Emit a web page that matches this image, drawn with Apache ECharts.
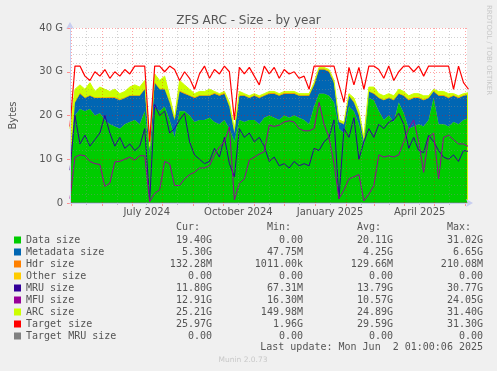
<!DOCTYPE html>
<html><head><meta charset="utf-8">
<script src="https://cdn.jsdelivr.net/npm/echarts@6/dist/echarts.min.js"></script>
<style>html,body{margin:0;padding:0;background:#F0F0F0;} #c{width:497px;height:371px;}</style>
</head><body><div id="c"></div>
<script>
// ---- data (values in G), one sample every 5 days starting 2024-04-30 ----
const startDate = [2024, 3, 30];
const stepDays = 5;
const dataSize = [8,20,21.5,21,21.5,20,20.5,19,18,17.5,
  17,18,18.5,19,18,21,11,22,21,22,
  19,15,21,21,20,18.5,19,19,19.5,18.5,
  18,19,17,14,19,18.5,19,19,18,19.5,
  20,19.5,19,20,19.5,20,19.5,19,18,22,
  25,25,24.5,23,17,16,22,21,18,13,
  24,23.5,21,19,20,18.5,23,20.5,17,17.5,
  18,17.5,19,24,18,18,17.5,18.5,18,19,
  19.4];
const metadataSize = [0.5,3,3.5,3,3,4,3.5,5,6,6.5,
  6.5,6,6,5.5,6.5,5,1,5.5,5,4,
  4,4,4.5,4,4.5,5.5,5.5,5.5,5,6.5,
  6.5,6,5,2,5.5,6,5,5.5,6,5,
  5,5.5,5.5,5,5.5,5,5,5.5,6.5,5,
  5.5,5.5,5.5,4.5,1.5,2,2.5,2,2,1,
  1.5,1.5,3,4.5,4,5,2,4,6.5,6.5,
  6,6,5,1.5,6.5,6.5,6.5,6,6,5.5,
  5.3];
const hdrSize = [0.001,0.1,0.12,0.12,0.13,0.13,0.14,0.14,0.15,0.15,
  0.15,0.14,0.14,0.14,0.15,0.13,0.05,0.15,0.14,0.13,
  0.13,0.12,0.13,0.13,0.14,0.15,0.15,0.15,0.14,0.16,
  0.16,0.15,0.14,0.08,0.14,0.15,0.14,0.15,0.16,0.14,
  0.14,0.15,0.15,0.14,0.15,0.14,0.14,0.15,0.17,0.14,
  0.2,0.21,0.2,0.16,0.06,0.07,0.09,0.08,0.08,0.05,
  0.06,0.07,0.1,0.12,0.11,0.13,0.08,0.11,0.16,0.16,
  0.15,0.15,0.13,0.06,0.16,0.16,0.16,0.15,0.15,0.14,
  0.13];
const otherSize = [0,0,0,0,0,0,0,0,0,0, 0,0,0,0,0,0,0,0,0,0, 0,0,0,0,0,0,0,0,0,0,
  0,0,0,0,0,0,0,0,0,0, 0,0,0,0,0,0,0,0,0,0, 0,0,0,0,0,0,0,0,0,0,
  0,0,0,0,0,0,0,0,0,0, 0,0,0,0,0,0,0,0,0,0, 0];
const mruSize = [7.5,20,13.5,15.5,13,14.5,16,20,16,13,
  15,12.5,13.5,12,13,17,0.5,22.5,20,21,
  16,17,19,20.5,14,11,10,9,9.5,12.5,
  10.5,15,9,6,17,15,16,14,15,13,
  9.5,10.5,8.5,9,8,9.5,8.5,9,8.5,12.5,
  12,14,15,19,1,17,15,19.5,10,14,
  17,15,18,17,18.5,19,20.5,18,12.5,15,
  12,11.5,15.5,14,12,10.5,10,11,9.5,12,
  11.8];
const mfuSize = [1,10.5,11,10.8,9.5,9,8.8,3.8,4.5,9.4,
  9.5,10,10.5,9.8,10.8,10.8,0.3,2.2,3,9.5,
  9,4,4,5.5,6.5,7,8,8,8.5,11,
  12.8,14,17.4,0.7,4.5,5.5,9.8,10.5,11.2,11.7,
  17.8,17.5,17.8,18.5,18.8,18.5,17,16.5,16.5,17,
  23,18,15,9,1,3,5.5,6,6.5,0.5,
  2,4,11,10.5,10.8,10.5,11,14,17,19,
  14,7,15,16,5.5,15,15.5,14.5,13.5,13.5,
  12.9];
const arcSize = [17,26,27,26,27.5,25.5,26.5,26,25.5,26,
  25,25.5,26.5,27,26.5,28,13,29.5,28,29,
  24.5,19.5,28,27,26,25,25.5,25.5,26,25.5,
  25,25.5,23,17,25.5,25,24.5,25,24.5,25,
  25.5,25.5,25,25.5,25.5,25.5,25,25,25,27.5,
  31,31,30.5,28,19,18.5,25,24,21,15,
  26.5,26.5,25,24.5,25,24.5,26,25.5,24.5,25,
  25,24.5,24.5,26,25.5,25.5,25,25,24.5,25,
  25.2];
const targetSize = [17.5,31.3,31.3,29,28,30,29,30.5,28.5,30,
  29,30.5,29.5,31.3,31.3,31.3,14,31.3,31.3,30,
  31.3,30.5,28,30,28.5,26,29.5,31.3,28.5,30.5,
  29.5,31.3,30,19,31,29.5,31,29,27,31.3,
  29.5,31,28.5,30.5,29.5,30,28.5,29,26,31.3,
  31.3,31.3,31.3,31.3,27,23,31,27,31,26,
  31.3,31.3,30.5,28.5,31.3,28,30,31.3,31.3,30,
  31.3,29,31.3,31.3,31.3,31.3,31.3,26,31.3,27.5,
  26];
const targetMruSize = otherSize.slice();

const seriesNames = ['Data size','Metadata size','Hdr size','Other size','MRU size','MFU size','ARC size','Target size','Target MRU size'];
const seriesColors = ['#00CC00','#0066B3','#FF8000','#FFCC00','#330099','#990099','#CCFF00','#FF0000','#808080'];
const curVals = ['19.40G','5.30G','132.28M','0.00','11.80G','12.91G','25.21G','25.97G','0.00'];
const minVals = ['0.00','47.75M','1011.00k','0.00','67.31M','16.30M','149.98M','1.96G','0.00'];
const avgVals = ['20.11G','4.25G','129.66M','0.00','13.79G','10.57G','24.89G','29.59G','0.00'];
const maxVals = ['31.02G','6.65G','210.08M','0.00','30.77G','24.05G','31.40G','31.30G','0.00'];
const yTickLabels = ['0','10 G','20 G','30 G','40 G'];
const xLabelMonths = [[2024,6],[2024,9],[2025,0],[2025,3]];
const xLabels = ['July 2024','October 2024','January 2025','April 2025'];

// ---- build ----
const DAY = 86400000;
const t0 = new Date(startDate[0], startDate[1], startDate[2]).getTime();
const pairs = arr => arr.map((v, i) => [t0 + i * stepDays * DAY, v]);
const xMin = new Date(2024, 3, 30).getTime();
const xMax = new Date(2025, 5, 2, 12).getTime();
const monthStarts = [], midMonths = [];
for (let y = 2024, m = 4; y < 2025 || (y === 2025 && m <= 5); ) {
  monthStarts.push(new Date(y, m, 1).getTime());
  midMonths.push(new Date(y, m, 16).getTime());
  m++; if (m > 11) { m = 0; y++; }
}
const labelPos = xLabelMonths.map(a => new Date(a[0], a[1], 16).getTime());

const mono = '"DejaVu Sans Mono", monospace';
const sans = '"DejaVu Sans", sans-serif';
const txt = '#555';

function area(name, idx, arr) {
  return { name, type: 'line', stack: 'arc', data: pairs(arr), symbol: 'none', silent: true,
    lineStyle: { width: 0 }, itemStyle: { color: seriesColors[idx] },
    areaStyle: { color: seriesColors[idx], opacity: 1 } };
}
function line(name, idx, arr, w) {
  return { name, type: 'line', data: pairs(arr), symbol: 'none', silent: true,
    lineStyle: { width: w, color: seriesColors[idx] }, itemStyle: { color: seriesColors[idx] } };
}

const series = [
  { name: 'ARC size', type: 'line', data: pairs(arcSize), symbol: 'none', silent: true,
    lineStyle: { width: 1, color: seriesColors[6] }, itemStyle: { color: seriesColors[6] },
    areaStyle: { color: seriesColors[6], opacity: 1 } },
  area('Data size', 0, dataSize),
  area('Metadata size', 1, metadataSize),
  area('Hdr size', 2, hdrSize),
  area('Other size', 3, otherSize),
  line('MRU size', 4, mruSize, 1),
  line('MFU size', 5, mfuSize, 1),
  line('Target size', 7, targetSize, 1.2),
  line('Target MRU size', 8, targetMruSize, 1)
];

const graphics = [];
const colRight = [212, 303, 393, 483];
const headers = ['Cur:', 'Min:', 'Avg:', 'Max:'];
const cols = [curVals, minVals, avgVals, maxVals];
headers.forEach((h, c) => {
  graphics.push({ type: 'text', x: colRight[c] - 12, y: 227, silent: true,
    style: { text: h, align: 'right', verticalAlign: 'middle', font: '10px ' + mono, fill: txt } });
  cols[c].forEach((v, r) => {
    graphics.push({ type: 'text', x: colRight[c], y: 240 + r * 12, silent: true,
      style: { text: v, align: 'right', verticalAlign: 'middle', font: '10px ' + mono, fill: txt } });
  });
});
graphics.push({ type: 'text', x: 483, y: 347, silent: true,
  style: { text: 'Last update: Mon Jun  2 01:00:06 2025', align: 'right', verticalAlign: 'middle', font: '10px ' + mono, fill: txt } });
graphics.push({ type: 'text', x: 243, y: 360, silent: true,
  style: { text: 'Munin 2.0.73', align: 'center', verticalAlign: 'middle', font: '7.5px ' + sans, fill: '#c8c8c8' } });
graphics.push({ type: 'text', x: 489, y: 5, rotation: -Math.PI / 2, silent: true,
  style: { text: 'RRDTOOL / TOBI OETIKER', align: 'left', verticalAlign: 'middle', font: '7px ' + sans, fill: '#c8c8c8' } });

const chart = echarts.init(document.getElementById('c'), null, { renderer: 'canvas' });
chart.setOption({
  animation: false,
  backgroundColor: '#F0F0F0',
  title: { text: 'ZFS ARC - Size - by year', left: 'center', top: 10,
    textStyle: { fontFamily: sans, fontSize: 12, fontWeight: 'normal', color: txt } },
  grid: { left: 67, top: 28, width: 400, height: 175, show: true, backgroundColor: '#FFFFFF', borderWidth: 0 },
  legend: { orient: 'vertical', left: 14, top: 234, itemWidth: 7, itemHeight: 7, itemGap: 0, icon: 'rect',
    padding: 0, selectedMode: false, data: seriesNames,
    textStyle: { fontFamily: mono, fontSize: 10, color: txt, lineHeight: 12 } },
  xAxis: [
    { type: 'time', min: xMin, max: xMax, z: 6, position: 'bottom',
      axisLine: { show: true, onZero: false, lineStyle: { color: '#C8CEF0', width: 1 }, symbol: ['none', 'arrow'], symbolSize: [6, 7], symbolOffset: [0, 6] },
      axisTick: { show: false }, axisLabel: { show: false }, splitLine: { show: false } },
    { type: 'value', min: xMin, max: xMax, z: 5, position: 'bottom',
      axisLine: { show: false, onZero: false },
      axisTick: { show: true, customValues: monthStarts, length: 3, lineStyle: { color: '#FF9090' } },
      axisLabel: { show: true, customValues: labelPos, margin: 4, fontFamily: sans, fontSize: 10, color: txt,
        formatter: function (v) { const i = labelPos.indexOf(v); return i >= 0 ? xLabels[i] : ''; } },
      splitLine: { show: true, lineStyle: { color: 'rgba(255,0,0,0.35)', type: [1, 2], width: 1 } } },
    { type: 'value', min: xMin, max: xMax, z: 4, position: 'bottom',
      axisLine: { show: false, onZero: false },
      axisTick: { show: true, customValues: midMonths, length: 2, lineStyle: { color: '#bbbbbb' } },
      axisLabel: { show: false },
      splitLine: { show: true, lineStyle: { color: 'rgba(140,140,140,0.4)', type: [1, 2], width: 1 } } }
  ],
  yAxis: { type: 'value', min: 0, max: 40, interval: 10, z: 5,
    name: 'Bytes', nameLocation: 'middle', nameGap: 52,
    nameTextStyle: { fontFamily: sans, fontSize: 10, color: txt },
    axisLine: { show: true, lineStyle: { color: '#C8CEF0', width: 1 }, symbol: ['none', 'arrow'], symbolSize: [6, 7], symbolOffset: [0, 6] },
    axisTick: { show: true, length: 3, lineStyle: { color: '#FF9090' } },
    axisLabel: { margin: 7, fontFamily: sans, fontSize: 10, color: txt,
      formatter: function (v) { return yTickLabels[Math.round(v / 10)]; } },
    splitLine: { show: true, lineStyle: { color: 'rgba(255,0,0,0.35)', type: [1, 2], width: 1 } },
    minorTick: { show: false, splitNumber: 5 },
    minorSplitLine: { show: true, lineStyle: { color: 'rgba(140,140,140,0.4)', type: [1, 2], width: 1 } } },
  series: series,
  graphic: graphics
});
</script>
</body></html>
